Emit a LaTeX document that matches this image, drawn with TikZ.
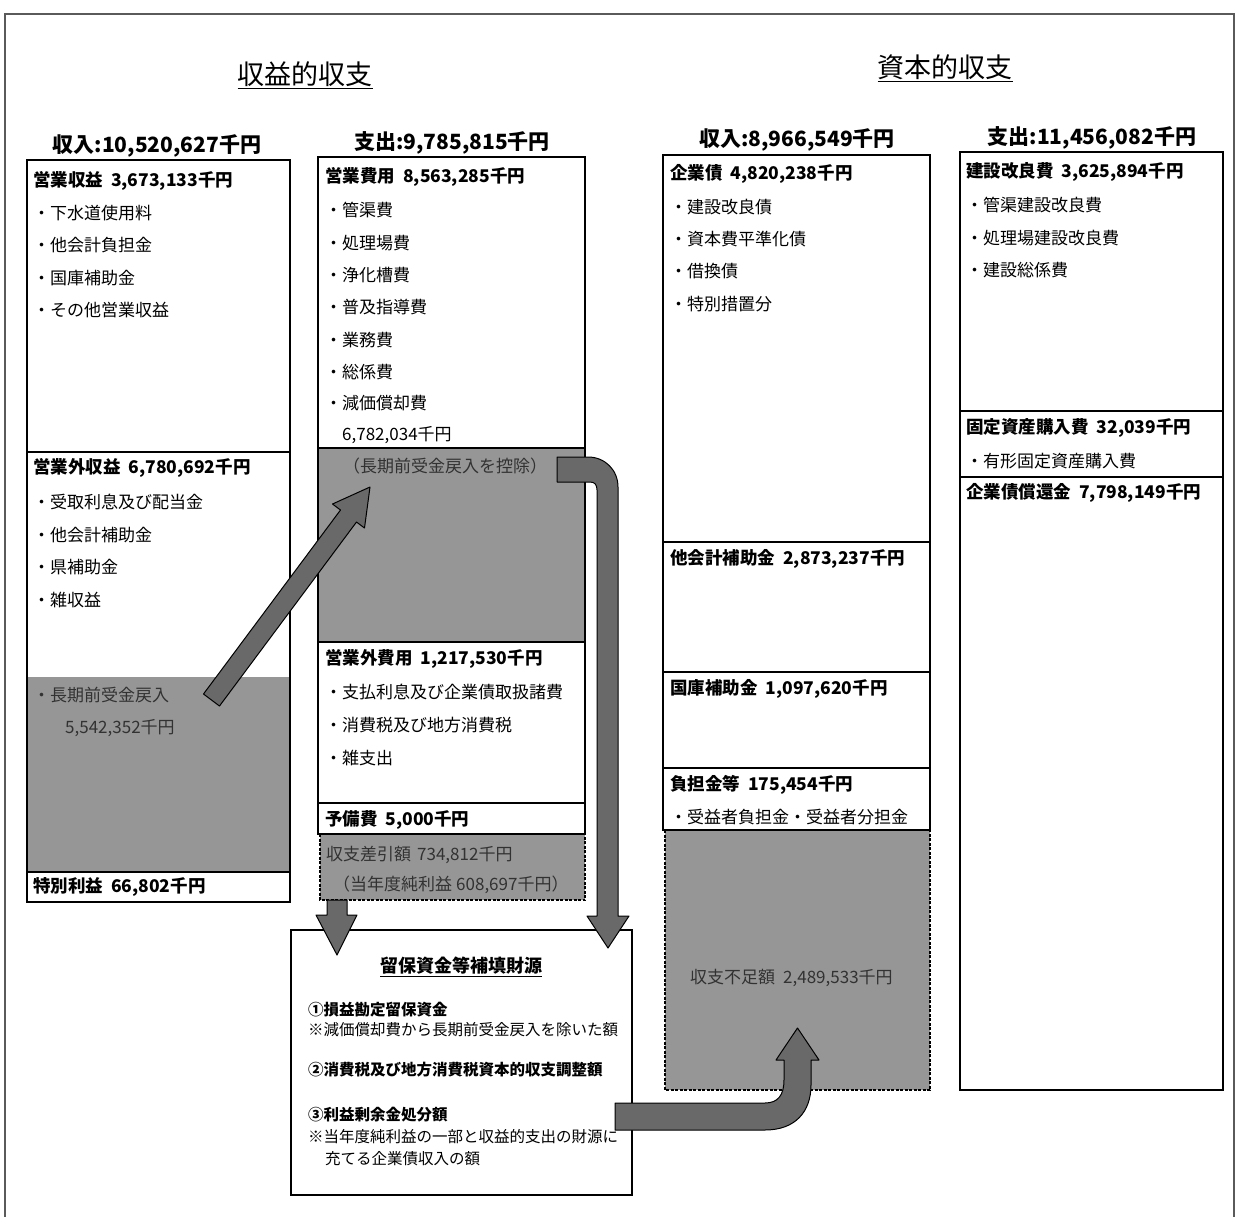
\documentclass[tikz,border=0pt]{standalone}
\usepackage{fontspec}
\setmainfont{Noto Sans CJK JP}
\definecolor{shade}{RGB}{150,150,150}
\definecolor{arrowc}{RGB}{105,105,105}
\definecolor{dimtext}{RGB}{50,50,50}
\definecolor{framec}{RGB}{90,90,90}
\tikzset{
 panel/.style={draw=black, line width=1.6pt},
 sepline/.style={draw=black, line width=1.2pt},
 shadedarea/.style={fill=shade},
 dashbox/.style={fill=shade, draw=black, line width=1.6pt, dash pattern=on 3pt off 1.5pt},
 blockarrow/.style={fill=arrowc, draw=black, line width=1pt, line join=round},
 hdtext/.style={anchor=west, inner sep=0pt, font=\bfseries\fontsize{17.5}{20}\selectfont},
 itemtext/.style={anchor=west, inner sep=0pt, font=\fontsize{17}{20}\selectfont},
 coltitle/.style={inner sep=0pt, font=\bfseries\fontsize{21}{24}\selectfont},
 maintitle/.style={inner sep=0pt, font=\fontsize{27}{30}\selectfont},
 notetext/.style={anchor=west, inner sep=0pt, font=\fontsize{15.5}{18}\selectfont},
 notehd/.style={anchor=west, inner sep=0pt, font=\bfseries\fontsize{15.5}{18}\selectfont},
 dimtxt/.style={text=dimtext},
}
\begin{document}
\begin{tikzpicture}[x=1pt,y=-1pt]
\useasboundingbox (0,0) rectangle (1239,1217);
\fill[white] (0,0) rectangle (1239,1217);
% outer frame
\draw[framec, line width=1.3pt] (5,1230) -- (5,14) -- (1234,14) -- (1234,1230);

% main titles
\node[maintitle] (t1) at (305,75) {\underline{収益的収支}};
\node[maintitle] (t2) at (945,68) {\underline{資本的収支}};

% column titles
\node[coltitle] (h1) at (157,146) {収入:10,520,627千円};
\node[coltitle] (h2) at (452,143) {支出:9,785,815千円};
\node[coltitle] (h3) at (797,140) {収入:8,966,549千円};
\node[coltitle] (h4) at (1092,138) {支出:11,456,082千円};

% shaded regions
\fill[shadedarea] (27,677) rectangle (290,872);
\fill[shadedarea] (318,448) rectangle (585,642);
\draw[dashbox] (320,834) rectangle (585,900);
\draw[dashbox] (665,830) rectangle (930,1090);

% separators
\draw[sepline] (27,452) -- (290,452);
\draw[sepline] (27,872) -- (290,872);
\draw[sepline] (318,448) -- (585,448);
\draw[sepline] (318,642) -- (585,642);
\draw[sepline] (318,803) -- (585,803);
\draw[sepline] (663,542) -- (930,542);
\draw[sepline] (663,672) -- (930,672);
\draw[sepline] (663,768) -- (930,768);
\draw[sepline] (960,411) -- (1223,411);
\draw[sepline] (960,477) -- (1223,477);

% panels
\draw[panel] (27,160) rectangle (290,902);
\draw[panel] (318,157) rectangle (585,834);
\draw[panel] (663,155) rectangle (930,830);
\draw[panel] (960,152) rectangle (1223,1090);
\draw[panel] (291,930) rectangle (632,1195);

% column 1
\node[hdtext] (a1) at (33,181) {営業収益\hspace{8pt}3,673,133千円};
\node[itemtext] (a2) at (33,213) {・下水道使用料};
\node[itemtext] (a3) at (33,245) {・他会計負担金};
\node[itemtext] (a4) at (33,278) {・国庫補助金};
\node[itemtext] (a5) at (33,310) {・その他営業収益};
\node[hdtext] (a6) at (33,468) {営業外収益\hspace{8pt}6,780,692千円};
\node[itemtext] (a7) at (33,502) {・受取利息及び配当金};
\node[itemtext] (a8) at (33,535) {・他会計補助金};
\node[itemtext] (a9) at (33,567) {・県補助金};
\node[itemtext] (a10) at (33,600) {・雑収益};
\node[itemtext, dimtxt] (a11) at (33,695) {・長期前受金戻入};
\node[itemtext, dimtxt] (a12) at (65,728) {5,542,352千円};
\node[hdtext] (a13) at (33,887) {特別利益\hspace{8pt}66,802千円};

% column 2
\node[hdtext] (b1) at (325,177) {営業費用\hspace{8pt}8,563,285千円};
\node[itemtext] (b2) at (325,210) {・管渠費};
\node[itemtext] (b3) at (325,243) {・処理場費};
\node[itemtext] (b4) at (325,275) {・浄化槽費};
\node[itemtext] (b5) at (325,307) {・普及指導費};
\node[itemtext] (b6) at (325,340) {・業務費};
\node[itemtext] (b7) at (325,372) {・総係費};
\node[itemtext] (b8) at (325,403) {・減価償却費};
\node[itemtext] (b9) at (342,435) {6,782,034千円};
\node[itemtext, dimtxt, anchor=center] (b10) at (445,466) {（長期前受金戻入を控除）};
\node[hdtext] (b11) at (325,659) {営業外費用\hspace{8pt}1,217,530千円};
\node[itemtext] (b12) at (325,692) {・支払利息及び企業債取扱諸費};
\node[itemtext] (b13) at (325,725) {・消費税及び地方消費税};
\node[itemtext] (b14) at (325,758) {・雑支出};
\node[hdtext] (b15) at (325,820) {予備費\hspace{8pt}5,000千円};
\node[itemtext, dimtxt] (b16) at (326,855) {収支差引額\hspace{6pt}734,812千円};
\node[itemtext, dimtxt] (b17) at (333,885) {（当年度純利益\hspace{4pt}608,697千円）};

% column 3
\node[hdtext] (c1) at (670,174) {企業債\hspace{8pt}4,820,238千円};
\node[itemtext] (c2) at (670,207) {・建設改良債};
\node[itemtext] (c3) at (670,239) {・資本費平準化債};
\node[itemtext] (c4) at (670,271) {・借換債};
\node[itemtext] (c5) at (670,304) {・特別措置分};
\node[hdtext] (c6) at (670,559) {他会計補助金\hspace{8pt}2,873,237千円};
\node[hdtext] (c7) at (670,689) {国庫補助金\hspace{8pt}1,097,620千円};
\node[hdtext] (c8) at (670,785) {負担金等\hspace{8pt}175,454千円};
\node[itemtext] (c9) at (670,817) {・受益者負担金・受益者分担金};
\node[itemtext, dimtxt] (c10) at (690,978) {収支不足額\hspace{8pt}2,489,533千円};

% column 4
\node[hdtext] (d1) at (966,172) {建設改良費\hspace{8pt}3,625,894千円};
\node[itemtext] (d2) at (966,205) {・管渠建設改良費};
\node[itemtext] (d3) at (966,238) {・処理場建設改良費};
\node[itemtext] (d4) at (966,270) {・建設総係費};
\node[hdtext] (d5) at (966,428) {固定資産購入費\hspace{8pt}32,039千円};
\node[itemtext] (d6) at (966,461) {・有形固定資産購入費};
\node[hdtext] (d7) at (966,493) {企業債償還金\hspace{8pt}7,798,149千円};

% bottom box
\node[inner sep=0pt, font=\bfseries\fontsize{18}{20}\selectfont] (e0) at (461,967) {\underline{留保資金等補填財源}};
\node[notehd] (e1) at (308,1010) {①損益勘定留保資金};
\node[notetext] (e2) at (308,1030) {※減価償却費から長期前受金戻入を除いた額};
\node[notehd] (e3) at (308,1070) {②消費税及び地方消費税資本的収支調整額};
\node[notehd] (e4) at (308,1115) {③利益剰余金処分額};
\node[notetext] (e5) at (308,1137) {※当年度純利益の一部と収益的支出の財源に};
\node[notetext] (e6) at (325,1159) {充てる企業債収入の額};

% block arrows
\draw[blockarrow] (203.5,694) -- (340.5,510) -- (332.5,504) -- (370,487) -- (364.5,528) -- (356.5,522) -- (219.5,706) -- cycle;
\draw[blockarrow] (557,457) -- (588,457) .. controls (605,457) and (618,470) .. (618,487) -- (618,916) -- (629,916) -- (608,948) -- (587,916) -- (597,916) -- (597,490) .. controls (597,485) and (595,482) .. (590,482) -- (557,482) -- cycle;
\draw[blockarrow] (327,900) -- (347,900) -- (347,915) -- (357,915) -- (337,955) -- (316,915) -- (327,915) -- cycle;
\draw[blockarrow] (615,1103) -- (765,1103) .. controls (778,1103) and (784,1095) .. (784,1080) -- (784,1060) -- (776,1060) -- (797.5,1028) -- (819,1060) -- (811,1060) -- (811,1085) .. controls (811,1112) and (795,1130) .. (765,1130) -- (615,1130) -- cycle;
\end{tikzpicture}
\end{document}
